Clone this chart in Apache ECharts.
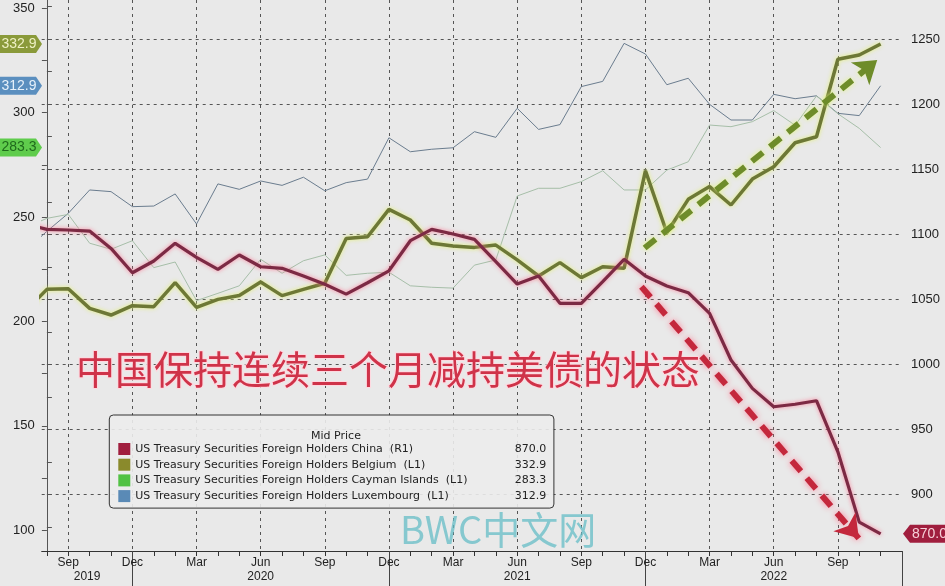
<!DOCTYPE html>
<html>
<head>
<meta charset="utf-8">
<script src="https://cdn.jsdelivr.net/npm/echarts@6/dist/echarts.min.js"></script>
<style>
html,body{margin:0;padding:0;background:#e9e9e9;}
#chart{width:945px;height:586px;}
</style>
</head>
<body>
<div id="chart"></div>
<script>
// Months Jul 2019 .. Nov 2022 (index -1 .. 39, index 0 = Aug 2019)
const months = ['2019-07','2019-08','2019-09','2019-10','2019-11','2019-12',
  '2020-01','2020-02','2020-03','2020-04','2020-05','2020-06','2020-07','2020-08','2020-09','2020-10','2020-11','2020-12',
  '2021-01','2021-02','2021-03','2021-04','2021-05','2021-06','2021-07','2021-08','2021-09','2021-10','2021-11','2021-12',
  '2022-01','2022-02','2022-03','2022-04','2022-05','2022-06','2022-07','2022-08','2022-09','2022-10','2022-11'];

const china = [1108,1103.8,1103.3,1102.5,1089.2,1070.5,1079.5,1093.1,1082.3,1073.1,1084.1,1075.1,1073.9,1068.0,1061.6,1054.1,1062.8,1072.0,1095.1,1103.8,1100.2,1096.1,1079.0,1061.8,1068.0,1047.0,1047.0,1063.6,1080.8,1068.0,1060.3,1055.2,1039.3,1003.5,981.7,967.6,969.5,972.2,933.0,879.0,870.0];
const belgium = [205,215.4,215.7,206.3,203.1,207.6,207.1,218.6,206.8,210.6,212.5,218.9,212.4,215.4,218.3,239.7,240.6,253.7,248.6,237.5,236.2,235.5,236.6,229.5,221.8,228.2,221.0,226.2,225.5,272.2,242.5,258.5,264.6,255.8,268.2,274.1,285.6,288.5,325.6,327.6,332.9];
const cayman = [245,249.4,251.3,237.5,234.6,238.7,225.8,228.5,210.0,213.5,217.1,229.8,223.1,229.1,231.9,222.1,223.1,223.6,217.1,216.4,216.0,227.0,229.5,260.1,263.8,263.8,267.0,272.2,263.0,263.0,272.5,276.5,294.1,293.3,295.7,301.0,294.0,308.0,299.5,292.5,283.3];
const luxembourg = [234,243.2,251.8,263.0,262.2,255.0,255.3,261.1,246.7,265.9,263.3,267.3,265.2,269.1,262.6,266.5,268.2,288.0,281.3,282.5,283.2,290.9,288.2,302.1,292.0,294.3,312.5,315.0,333.2,328.1,313.4,316.5,304.0,296.5,296.5,308.8,306.7,308.1,299.7,298.6,312.9];

const seriesNames = ['US Treasury Securities Foreign Holders China  (R1)',
  'US Treasury Securities Foreign Holders Belgium  (L1)',
  'US Treasury Securities Foreign Holders Cayman Islands  (L1)',
  'US Treasury Securities Foreign Holders Luxembourg  (L1)'];

const leftTicks = [100,125,150,175,200,225,250,275,300,325,350];
const leftLabels = [100,150,200,250,300,350];
const rightTicks = [875,900,925,950,975,1000,1025,1050,1075,1100,1125,1150,1175,1200,1225,1250,1275];
const rightLabels = [900,950,1000,1050,1100,1150,1200,1250];
const monthNames = ['Jan','Feb','Mar','Apr','May','Jun','Jul','Aug','Sep','Oct','Nov','Dec'];
const quarterTicks = [1,4,7,10,13,16,19,22,25,28,31,34,37];
const yearBounds = [4,16,28,40];
const years = ['2019','2020','2021','2022'];

// annotation arrows (month index, axis value)
const greenArrow = [[27.96,235.2],[38.84,325.2]];
const redArrow = [[27.81,1059.8],[37.98,866.5]];

const XMIN = -0.243, XMAX = 40;
const idx = i => i - 1;
const monthlyTicks = months.map((m,i)=>idx(i)).filter(v=>v>=0).concat([40]);
const yearCenters = years.map((y,k)=>((k===0?XMIN:yearBounds[k-1]) + yearBounds[k])/2);

const FONT = 'Liberation Sans';
const LFONT = 'DejaVu Sans';
const toPairs = arr => arr.map((v,i)=>[idx(i), v]);
const last = arr => arr[arr.length-1].toFixed(1);

const chart = echarts.init(document.getElementById('chart'));
const dash = {color:'#555', type:[3,4], width:1};

const option = {
  backgroundColor: '#e9e9e9',
  animation: false,
  grid: {left: 41.7, right: 43, top: 0, bottom: 35},
  title: {text: 'Mid Price', left: 331, top: 426, textAlign: 'center',
    textStyle: {fontFamily: LFONT, fontSize: 11, fontWeight: 'normal', color: '#222'}},
  legend: {
    orient: 'vertical', left: 109.3, top: 415, selectedMode: false,
    padding: [28, 7.6, 6, 9], itemWidth: 12, itemHeight: 12, itemGap: 3.7,
    backgroundColor: 'rgba(236,236,236,0.9)', borderColor: '#333', borderWidth: 1, borderRadius: 4,
    icon: 'rect',
    data: [
      {name: seriesNames[0], itemStyle: {color: '#a01e3e'}},
      {name: seriesNames[1], itemStyle: {color: '#8a8a2c'}},
      {name: seriesNames[2], itemStyle: {color: '#52c244'}},
      {name: seriesNames[3], itemStyle: {color: '#5a8ab6'}}
    ],
    formatter: name => {
      const k = seriesNames.indexOf(name);
      const v = [last(china), last(belgium), last(cayman), last(luxembourg)][k];
      return '{n|' + name + '}{v|' + v + '}';
    },
    textStyle: {fontFamily: LFONT, fontSize: 11, color: '#222',
      rich: {n: {width: 366, fontFamily: LFONT, fontSize: 11, lineHeight: 12, color:'#222'},
             v: {width: 45, align: 'right', fontFamily: LFONT, fontSize: 11, lineHeight: 12, color:'#222'}}}
  },
  xAxis: [
    {type: 'value', min: XMIN, max: XMAX, position: 'bottom',
      axisLine: {show: true, onZero: false, lineStyle: {color: '#333'}},
      axisTick: {show: true, customValues: monthlyTicks, length: 5, lineStyle: {color: '#333'}},
      axisLabel: {show: false}, splitLine: {show: false}},
    {type: 'value', min: XMIN, max: XMAX, position: 'bottom',
      axisLine: {show: false, onZero: false},
      axisTick: {show: false, customValues: quarterTicks},
      axisLabel: {show: true, customValues: quarterTicks, margin: 6, fontFamily: FONT, fontSize: 12, color: '#222',
        formatter: v => monthNames[(Math.round(v) + 7) % 12]},
      splitLine: {show: true, lineStyle: dash}},
    {type: 'value', min: XMIN, max: XMAX, position: 'bottom',
      axisLine: {show: false, onZero: false},
      axisTick: {show: true, customValues: yearBounds, length: 36, lineStyle: {color: '#444'}},
      axisLabel: {show: true, customValues: yearCenters, margin: 20, fontFamily: FONT, fontSize: 12, color: '#222',
        formatter: v => years[yearCenters.findIndex(c => Math.abs(c - v) < 0.01)]},
      splitLine: {show: false}}
  ],
  yAxis: [
    {type: 'value', min: 90.1, max: 353.97, position: 'left',
      axisLine: {show: true, lineStyle: {color: '#555'}},
      axisTick: {show: true, customValues: leftTicks, length: 5, lineStyle: {color: '#555'}},
      axisLabel: {show: true, customValues: leftLabels, margin: 7, fontFamily: FONT, fontSize: 13, color: '#222',
        formatter: v => String(v)},
      splitLine: {show: false}},
    {type: 'value', min: 856.8, max: 1279.95, position: 'right',
      axisLine: {show: true, lineStyle: {color: '#555'}},
      axisTick: {show: true, customValues: rightTicks, length: 5, lineStyle: {color: '#555'}},
      axisLabel: {show: true, customValues: rightLabels, margin: 9, fontFamily: FONT, fontSize: 13, color: '#222',
        formatter: v => String(v)},
      splitLine: {show: false}},
    {type: 'value', min: 856.8, max: 1279.95, position: 'right',
      axisLine: {show: false}, axisLabel: {show: false},
      axisTick: {show: false, customValues: rightLabels},
      splitLine: {show: true, lineStyle: dash}}
  ],
  series: [
    {name: seriesNames[3], type: 'line', xAxisIndex: 0, yAxisIndex: 0, showSymbol: false, symbol: 'none',
      data: toPairs(luxembourg), lineStyle: {color: '#6a7c8e', width: 1}, silent: true},
    {name: seriesNames[2], type: 'line', xAxisIndex: 0, yAxisIndex: 0, showSymbol: false, symbol: 'none',
      data: toPairs(cayman), lineStyle: {color: '#a6bea8', width: 1}, silent: true},
    {name: seriesNames[1], type: 'line', xAxisIndex: 0, yAxisIndex: 0, showSymbol: false, symbol: 'none',
      data: toPairs(belgium), silent: true,
      lineStyle: {color: '#6d7836', width: 3.5, shadowColor: 'rgba(225,240,110,0.9)', shadowBlur: 4},
      markLine: {silent: true, symbol: ['none','arrow'], symbolSize: 22,
        lineStyle: {color: '#6e8c2a', width: 6, type: [14,9], shadowColor: 'rgba(225,245,120,0.95)', shadowBlur: 5},
        itemStyle: {color: '#6e8c2a'},
        label: {show: false},
        data: [[{coord: greenArrow[0]}, {coord: greenArrow[1]}]]}},
    {name: seriesNames[0], type: 'line', xAxisIndex: 0, yAxisIndex: 1, showSymbol: false, symbol: 'none',
      data: toPairs(china), silent: true,
      lineStyle: {color: '#7c2a44', width: 3.2, shadowColor: 'rgba(255,110,140,0.8)', shadowBlur: 4},
      markLine: {silent: true, symbol: ['none','arrow'], symbolSize: 22,
        lineStyle: {color: '#c4283c', width: 6, type: [14,9], shadowColor: 'rgba(255,120,145,0.95)', shadowBlur: 6},
        itemStyle: {color: '#c4283c'},
        label: {show: false},
        data: [[{coord: redArrow[0]}, {coord: redArrow[1]}]]}}
  ]
};
chart.setOption(option);

// value tags placed through the axes' own scales
function tagGroup(axisIdx, value, text, bg, fg, side){
  const y = chart.convertToPixel({yAxisIndex: axisIdx}, value);
  const h = 9;
  let pts, tx, align;
  if (side === 'left') {
    pts = [[0,y-h],[36,y-h],[42,y],[36,y+h],[0,y+h]]; tx = 19; align = 'center';
  } else {
    pts = [[945,y-h],[910,y-h],[903,y],[910,y+h],[945,y+h]]; tx = 912; align = 'left';
  }
  return {type: 'group', silent: true, z: 120, children: [
    {type: 'polygon', shape: {points: pts}, style: {fill: bg}},
    {type: 'text', x: tx, y: y, style: {text: text, fill: fg, fontFamily: FONT, fontSize: 14,
      align: align, verticalAlign: 'middle'}}
  ]};
}
chart.setOption({graphic: [
  {type: 'text', x: 76, y: 369, silent: true, z: 100,
    style: {text: '中国保持连续三个月减持美债的状态', fontFamily: 'Noto Sans CJK SC', fontSize: 39,
      fill: '#cf3349', stroke: 'rgba(255,215,222,0.95)', lineWidth: 2,
      shadowColor: 'rgba(255,140,160,0.6)', shadowBlur: 4,
      align: 'left', verticalAlign: 'middle'}},
  {type: 'text', x: 400, y: 530, silent: true, z: 100,
    style: {text: 'BWC中文网', fontFamily: 'Noto Sans CJK SC', fontSize: 38,
      fill: 'rgba(100,188,198,0.75)', align: 'left', verticalAlign: 'middle'}},
  tagGroup(0, belgium[belgium.length-1], last(belgium), '#8a9a3a', '#eef0c4', 'left'),
  tagGroup(0, luxembourg[luxembourg.length-1], last(luxembourg), '#5b8fbf', '#e6f0fa', 'left'),
  tagGroup(0, cayman[cayman.length-1], last(cayman), '#5fcc4c', '#1f6a1c', 'left'),
  tagGroup(1, china[china.length-1], last(china), '#a01e3e', '#f6d0d8', 'right')
]});
</script>
</body>
</html>
